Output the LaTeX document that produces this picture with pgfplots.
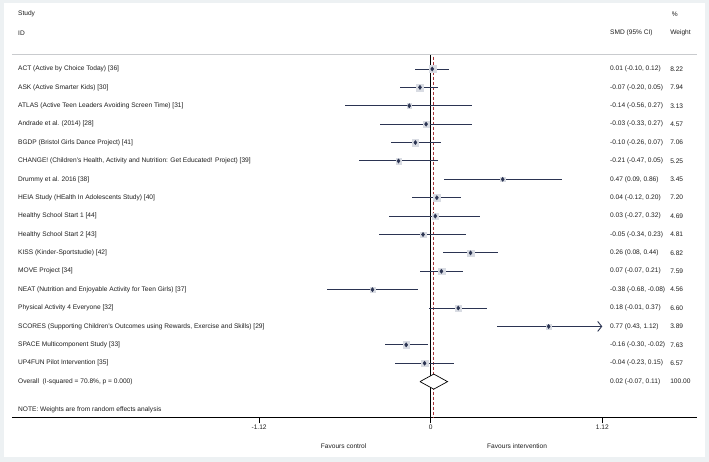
\documentclass[border=0pt]{standalone}
\usepackage{fontspec}
\setmainfont{Liberation Sans}
\usepackage{pgfplots}
\pgfplotsset{compat=1.18}
\usepackage{pgfplotstable}
\usetikzlibrary{arrows.meta,backgrounds}

\definecolor{cinavy}{HTML}{2B3452}
\definecolor{boxgray}{HTML}{D9DCE3}
\definecolor{nullred}{HTML}{A83236}
\definecolor{framecol}{HTML}{EDF1F3}
\definecolor{sepgray}{HTML}{C9CBCE}
\definecolor{txt}{HTML}{1E1E1E}

% row, SMD, lower and upper 95% limits, weight (%)
\pgfplotstableread{
row est   lo    hi    w
1   0.01 -0.10  0.12  8.22
2  -0.07 -0.20  0.05  7.94
3  -0.14 -0.56  0.27  3.13
4  -0.03 -0.33  0.27  4.57
5  -0.10 -0.26  0.07  7.06
6  -0.21 -0.47  0.05  5.25
7   0.47  0.09  0.86  3.45
8   0.04 -0.12  0.20  7.20
9   0.03 -0.27  0.32  4.69
10 -0.05 -0.34  0.23  4.81
11  0.26  0.08  0.44  6.82
12  0.07 -0.07  0.21  7.59
13 -0.38 -0.68 -0.08  4.56
14  0.18 -0.01  0.37  6.60
15  0.77  0.43  1.12  3.89
16 -0.16 -0.30 -0.02  7.63
17 -0.04 -0.23  0.15  6.57
}\studies

\tikzset{lab/.style={anchor=west, inner sep=0pt, text=txt}}
\newcommand{\frow}[4]{%
  \node[lab] at (axis cs:-2.694,-#1) {#2};
  \node[lab] at (axis cs:1.170,-#1) {#3};
  \node[lab] at (axis cs:1.5626,-#1) {#4};}

\begin{document}
\begin{tikzpicture}[font=\fontsize{6.6}{7.8}\selectfont]
\begin{axis}[
  scale only axis, width=685pt, height=362.5pt,
  xmin=-2.733, xmax=1.738, ymin=-19.95, ymax=-0.239,
  axis x line*=bottom, axis y line=none,
  x axis line style={line width=1.2pt, -},
  xtick={-1.12,0,1.12}, xticklabels={-1.12,0,1.12},
  tick align=outside, major tick length=6pt,
  every tick/.style={black, line width=1.2pt},
  xticklabel style={font=\fontsize{6.6}{7.8}\selectfont, text=txt, inner sep=1pt},
  clip=false,
]
% frame corners
\coordinate (oTL) at (axis cs:-2.8113,2.752);
\coordinate (oBR) at (axis cs:1.8166,-22.370);
\coordinate (iTL) at (axis cs:-2.7852,2.589);
\coordinate (iBR) at (axis cs:1.7904,-22.098);

\addplot[sepgray, line width=1pt] coordinates {(-2.733,-0.239) (1.738,-0.239)};

% weight boxes, area proportional to weight
\addplot[scatter, only marks, mark=square*, point meta=\thisrow{w},
  scatter/@pre marker code/.code={%
    \pgfmathfloattofixed{\pgfplotspointmeta}\let\wt=\pgfmathresult
    \pgfmathsetmacro\msz{1.22*sqrt(\wt)}%
    \scope[mark size=\msz pt, draw=boxgray, fill=boxgray]},
  scatter/@post marker code/.code={\endscope}]
  table[x=est, y expr=-\thisrow{row}] {\studies};

\addplot[black, line width=0.9pt] coordinates {(0,-0.239) (0,-19.95)};
\addplot[nullred, line width=0.9pt, dash pattern=on 3pt off 2pt] coordinates {(0.02,-0.33) (0.02,-19.95)};

% confidence intervals and point estimates
\addplot[only marks, mark=diamond*, mark size=2.1pt,
  mark options={draw=cinavy, fill=cinavy},
  error bars/.cd, x dir=both, x explicit, error mark=none,
  error bar style={line width=0.9pt, cinavy}]
  table[x=est, y expr=-\thisrow{row},
        x error plus expr=\thisrow{hi}-\thisrow{est},
        x error minus expr=\thisrow{est}-\thisrow{lo}] {\studies};
\addplot[cinavy, line width=0.9pt, -{Straight Barb[length=4pt, width=10pt]}]
  coordinates {(1.0,-15) (1.12,-15)};

% overall estimate
\addplot[black, fill=white, line width=0.7pt]
  coordinates {(-0.07,-18) (0.02,-17.59) (0.11,-18) (0.02,-18.41) (-0.07,-18)};

\node[lab] at (axis cs:-2.694,1.99) {Study};
\node[lab] at (axis cs:-2.694,0.958) {ID};
\node[lab] at (axis cs:1.170,0.958) {SMD (95\% CI)};
\node[lab] at (axis cs:1.5626,0.958) {Weight};
\node[lab] at (axis cs:1.5725,1.99) {\%};

\frow{1}{ACT (Active by Choice Today) [36]}{0.01 (-0.10, 0.12)}{8.22}
\frow{2}{ASK (Active Smarter Kids) [30]}{-0.07 (-0.20, 0.05)}{7.94}
\frow{3}{ATLAS (Active Teen Leaders Avoiding Screen Time) [31]}{-0.14 (-0.56, 0.27)}{3.13}
\frow{4}{Andrade et al. (2014) [28]}{-0.03 (-0.33, 0.27)}{4.57}
\frow{5}{BGDP (Bristol Girls Dance Project) [41]}{-0.10 (-0.26, 0.07)}{7.06}
\frow{6}{CHANGE! (Children's Health, Activity and Nutrition: Get Educated! Project) [39]}{-0.21 (-0.47, 0.05)}{5.25}
\frow{7}{Drummy et al. 2016 [38]}{0.47 (0.09, 0.86)}{3.45}
\frow{8}{HEIA Study (HEalth In Adolescents Study) [40]}{0.04 (-0.12, 0.20)}{7.20}
\frow{9}{Healthy School Start 1 [44]}{0.03 (-0.27, 0.32)}{4.69}
\frow{10}{Healthy School Start 2 [43]}{-0.05 (-0.34, 0.23)}{4.81}
\frow{11}{KISS (Kinder-Sportstudie) [42]}{0.26 (0.08, 0.44)}{6.82}
\frow{12}{MOVE Project [34]}{0.07 (-0.07, 0.21)}{7.59}
\frow{13}{NEAT (Nutrition and Enjoyable Activity for Teen Girls) [37]}{-0.38 (-0.68, -0.08)}{4.56}
\frow{14}{Physical Activity 4 Everyone [32]}{0.18 (-0.01, 0.37)}{6.60}
\frow{15}{SCORES (Supporting Children's Outcomes using Rewards, Exercise and Skills) [29]}{0.77 (0.43, 1.12)}{3.89}
\frow{16}{SPACE Multicomponent Study [33]}{-0.16 (-0.30, -0.02)}{7.63}
\frow{17}{UP4FUN Pilot Intervention [35]}{-0.04 (-0.23, 0.15)}{6.57}
\frow{18}{Overall\ \ (I-squared = 70.8\%, p = 0.000)}{0.02 (-0.07, 0.11)}{100.00}

\node[lab] at (axis cs:-2.694,-19.54) {NOTE: Weights are from random effects analysis};
\node[lab] at (axis cs:-0.718,-21.5) {Favours control};
\node[lab] at (axis cs:0.3675,-21.5) {Favours intervention};
\end{axis}
\begin{scope}[on background layer]
\fill[framecol] (oTL) rectangle (oBR);
\fill[white] (iTL) rectangle (iBR);
\end{scope}
\end{tikzpicture}
\end{document}
